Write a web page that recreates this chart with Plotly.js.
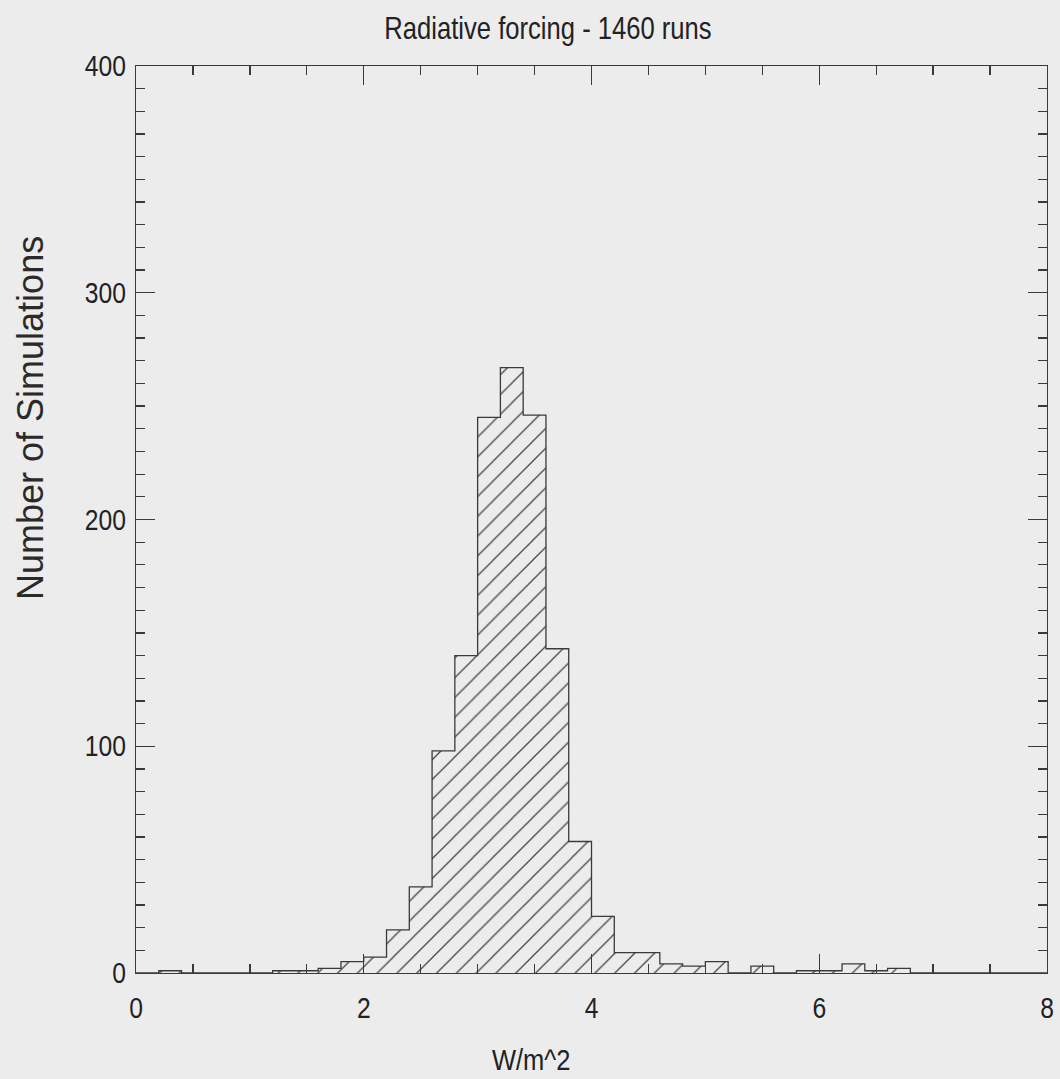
<!DOCTYPE html>
<html>
<head>
<meta charset="utf-8">
<script src="https://cdn.plot.ly/plotly-3.0.1.min.js"></script>
<style>
  html, body { margin: 0; padding: 0; background: #ececec; }
  #chart { width: 1060px; height: 1079px; }
</style>
</head>
<body>
<div id="chart"></div>
<script>
// Histogram bin edges (W/m^2)
const binEdges = [0.0, 0.2, 0.4, 0.6, 0.8, 1.0, 1.2, 1.4, 1.6, 1.8,
                  2.0, 2.2, 2.4, 2.6, 2.8, 3.0, 3.2, 3.4, 3.6, 3.8,
                  4.0, 4.2, 4.4, 4.6, 4.8, 5.0, 5.2, 5.4, 5.6, 5.8,
                  6.0, 6.2, 6.4, 6.6, 6.8, 7.0, 7.2, 7.4, 7.6, 7.8, 8.0];
// Number of simulations in each bin
const counts = [0, 1, 0, 0, 0, 0, 1, 1, 2, 5,
                7, 19, 38, 98, 140, 245, 267, 246, 143, 58,
                25, 9, 9, 4, 3, 5, 0, 3, 0, 1,
                1, 4, 1, 2, 0, 0, 0, 0, 0, 0];
const xTickVals = [0, 2, 4, 6, 8];
const yTickVals = [0, 100, 200, 300, 400];

const titleText = 'Radiative forcing - 1460 runs';
const xTitle = 'W/m^2';
const yTitle = 'Number of Simulations';

const centers = counts.map((c, i) => (binEdges[i] + binEdges[i + 1]) / 2);
const widths = counts.map((c, i) => binEdges[i + 1] - binEdges[i]);

// step outline
const stepX = binEdges.slice();
const stepY = counts.concat([counts[counts.length - 1]]);

const sans = 'Liberation Sans, Arial, Helvetica, sans-serif';
const ink = '#3a3a3a';

const traces = [
  {
    type: 'bar',
    x: centers,
    y: counts,
    width: widths,
    marker: {
      color: 'rgba(0,0,0,0)',
      line: { width: 0 },
      pattern: { shape: '/', fgcolor: '#444444', bgcolor: 'rgba(0,0,0,0)', size: 14, solidity: 0.09 }
    },
    hoverinfo: 'skip',
    showlegend: false
  },
  {
    type: 'scatter',
    mode: 'lines',
    x: stepX,
    y: stepY,
    line: { shape: 'hv', color: ink, width: 1.3 },
    hoverinfo: 'skip',
    showlegend: false
  }
];

const axisCommon = {
  showgrid: false,
  zeroline: false,
  showline: true,
  linecolor: ink,
  linewidth: 1.3,
  mirror: 'ticks',
  ticks: 'inside',
  ticklen: 19,
  tickwidth: 1.3,
  tickcolor: ink,
  tickfont: { family: sans, size: 29, color: '#222' }
};

const layout = {
  width: 1060,
  height: 1079,
  paper_bgcolor: '#ececec',
  plot_bgcolor: '#ececec',
  margin: { l: 136, r: 13, t: 66, b: 106, pad: 0 },
  bargap: 0,
  title: {
    text: titleText,
    font: { family: sans, size: 32, color: '#222' },
    x: (548 - 136) / 911,
    xanchor: 'center',
    xref: 'paper',
    y: 1 - 28 / 1079,
    yanchor: 'middle'
  },
  xaxis: Object.assign({}, axisCommon, {
    range: [0, 8],
    tickmode: 'array',
    tickvals: xTickVals,
    ticktext: xTickVals.map(String),
    ticklabelstandoff: 9,
    minor: { dtick: 0.5, ticks: 'inside', ticklen: 9, tickwidth: 1.3, tickcolor: ink, showgrid: false }
  }),
  yaxis: Object.assign({}, axisCommon, {
    range: [0, 400],
    tickmode: 'array',
    tickvals: yTickVals,
    ticktext: yTickVals.map(String),
    ticklabelstandoff: 3,
    minor: { dtick: 10, ticks: 'inside', ticklen: 9, tickwidth: 1.3, tickcolor: ink, showgrid: false }
  }),
  annotations: [
    {
      text: yTitle,
      xref: 'paper', yref: 'paper',
      x: (30 - 136) / 911, y: (973 - 418) / 907,
      xanchor: 'center', yanchor: 'middle',
      textangle: -90,
      showarrow: false,
      font: { family: sans, size: 36, color: '#2a2a2a' }
    },
    {
      text: xTitle,
      xref: 'paper', yref: 'paper',
      x: (531 - 136) / 911, y: (973 - 1059) / 907,
      xanchor: 'center', yanchor: 'middle',
      showarrow: false,
      font: { family: sans, size: 30, color: '#222' }
    }
  ]
};

// Narrow the glyphs (the original uses a condensed Helvetica)
function condense(selector, factor) {
  document.querySelectorAll(selector).forEach(function (t) {
    const len = t.getComputedTextLength();
    if (len > 0) {
      t.setAttribute('textLength', (len * factor).toFixed(2));
      t.setAttribute('lengthAdjust', 'spacingAndGlyphs');
    }
  });
}

Plotly.newPlot('chart', traces, layout, { displayModeBar: false, staticPlot: true }).then(function () {
  condense('.xtick text', 0.85);
  condense('.ytick text', 0.85);
  condense('.gtitle', 0.8);
  condense('.annotation[data-index="1"] text', 0.85);
});
</script>
</body>
</html>
